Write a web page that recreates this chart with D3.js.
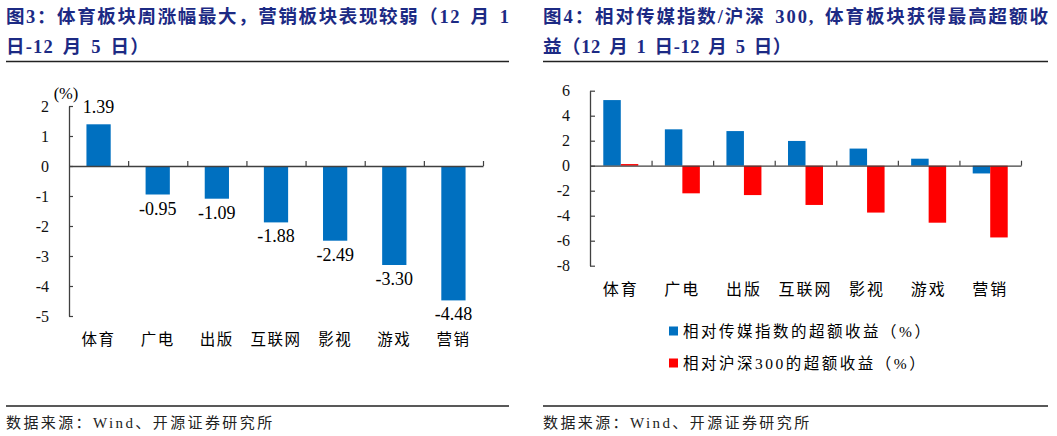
<!DOCTYPE html>
<html>
<head>
<meta charset="utf-8">
<script src="https://cdn.jsdelivr.net/npm/d3@7"></script>
<style>
  body { margin: 0; background: #fff; }
  svg { display: block; }
  text { font-family: "Liberation Serif", "Noto Sans CJK SC", serif; white-space: pre; }
</style>
</head>
<body>
<svg id="chart" width="1057" height="436"></svg>
<script>
// sectors, shared by both panels
var categories = ['体育', '广电', '出版', '互联网', '影视', '游戏', '营销'];
// fig 3: weekly change (%)
var weeklyChange = [1.39, -0.95, -1.09, -1.88, -2.49, -3.30, -4.48];
var leftTicks = [2, 1, 0, -1, -2, -3, -4, -5];
// fig 4: excess returns (%)
var excessVsMedia = [5.25, 2.91, 2.77, 1.98, 1.37, 0.56, -0.62];
var excessVsHs300 = [0.13, -2.21, -2.35, -3.14, -3.75, -4.56, -5.74];
var rightTicks = [6, 4, 2, 0, -2, -4, -6, -8];
var seriesNames = ['相对传媒指数的超额收益（%）', '相对沪深300的超额收益（%）'];
var seriesColors = ['#0070C0', '#FF0000'];

var svg = d3.select('#chart');
var titleColor = '#1C2A84';
var axisColor = '#404040';
var fmtHyphen = function(d) { return String(d); };

// titles + rules
function header(x, w, lines, ls2) {
  lines.forEach(function(t, i) {
    var el = svg.append('text')
      .attr('x', x).attr('y', 23 + i * 30)
      .attr('fill', titleColor)
      .attr('font-weight', 'bold')
      .attr('font-size', 18.5)
      .attr('word-spacing', 3)
      .text(t);
    if (i === 0) el.attr('textLength', w).attr('lengthAdjust', 'spacing');
    else el.attr('letter-spacing', ls2);
  });
  svg.append('line').attr('x1', x).attr('x2', x + w)
    .attr('y1', 61.5).attr('y2', 61.5)
    .attr('stroke', '#222').attr('stroke-width', 1.3);
  svg.append('line').attr('x1', x).attr('x2', x + w)
    .attr('y1', 406).attr('y2', 406)
    .attr('stroke', '#222').attr('stroke-width', 1.3);
  svg.append('text')
    .attr('x', x).attr('y', 428)
    .attr('font-size', 15)
    .attr('fill', '#222')
    .attr('letter-spacing', 2.4)
    .text('数据来源：Wind、开源证券研究所');
}
header(6, 503, ['图3：体育板块周涨幅最大，营销板块表现较弱（12 月 1', '日-12 月 5 日）'], 1.2);
header(543, 505, ['图4：相对传媒指数/沪深 300, 体育板块获得最高超额收', '益（12 月 1 日-12 月 5 日）'], 0.6);

// ---- left panel ----
(function() {
  var x0 = 69, x1 = 483;
  var y = d3.scaleLinear().domain([-5, 2]).range([316, 106]);
  var x = d3.scaleBand().domain(categories).range([x0, x1]);
  var bw = x.step() * 0.41;
  var g = svg.append('g');

  g.selectAll('rect.bar').data(weeklyChange).enter().append('rect')
    .attr('class', 'bar')
    .attr('x', function(d, i) { return x(categories[i]) + (x.bandwidth() - bw) / 2; })
    .attr('y', function(d) { return y(Math.max(0, d)); })
    .attr('width', bw)
    .attr('height', function(d) { return Math.abs(y(d) - y(0)); })
    .attr('fill', seriesColors[0]);

  var ya = g.append('g').attr('transform', 'translate(' + x0 + ',0)')
    .call(d3.axisLeft(y).tickValues(leftTicks).tickFormat(fmtHyphen)
      .tickSizeInner(-4).tickSizeOuter(0).tickPadding(20));
  styleAxis(ya, 16);

  var xl = d3.scaleLinear().domain([0, categories.length]).range([x0, x1]);
  var xa = g.append('g').attr('transform', 'translate(0,' + y(0) + ')')
    .call(d3.axisBottom(xl).tickValues(d3.range(1, categories.length + 1))
      .tickSizeInner(-5).tickSizeOuter(0).tickFormat(''));
  styleAxis(xa, 16);

  g.selectAll('text.val').data(weeklyChange).enter().append('text')
    .attr('class', 'val')
    .attr('x', function(d, i) { return x(categories[i]) + x.bandwidth() / 2; })
    .attr('y', function(d) { return d >= 0 ? y(d) - 11 : y(d) + 20; })
    .attr('text-anchor', 'middle')
    .attr('font-size', 18)
    .text(function(d) { return d.toFixed(2); });

  g.selectAll('text.cat').data(categories).enter().append('text')
    .attr('class', 'cat')
    .attr('x', function(d) { return x(d) + x.bandwidth() / 2; })
    .attr('y', 345)
    .attr('text-anchor', 'middle')
    .attr('font-size', 15.5)
    .attr('letter-spacing', 1.5)
    .text(function(d) { return d; });

  g.append('text').attr('x', 66).attr('y', 99)
    .attr('text-anchor', 'middle').attr('font-size', 16.5)
    .text('(%)');
})();

// ---- right panel ----
(function() {
  var x0 = 590, x1 = 1021;
  var y = d3.scaleLinear().domain([-8, 6]).range([265.7, 90.7]);
  var x = d3.scaleBand().domain(categories).range([x0, x1]);
  var sub = d3.scaleBand().domain([0, 1]).range([0, 35]);
  var off = (x.bandwidth() - 35) / 2;
  var g = svg.append('g');
  var series = [excessVsMedia, excessVsHs300];

  series.forEach(function(vals, s) {
    g.selectAll('rect.s' + s).data(vals).enter().append('rect')
      .attr('class', 's' + s)
      .attr('x', function(d, i) { return x(categories[i]) + off + sub(s); })
      .attr('y', function(d) { return y(Math.max(0, d)); })
      .attr('width', sub.bandwidth())
      .attr('height', function(d) { return Math.abs(y(d) - y(0)); })
      .attr('fill', seriesColors[s]);
  });

  var ya = g.append('g').attr('transform', 'translate(' + x0 + ',0)')
    .call(d3.axisLeft(y).tickValues(rightTicks).tickFormat(fmtHyphen)
      .tickSizeInner(-5).tickSizeOuter(0).tickPadding(20));
  styleAxis(ya, 16);

  var xl = d3.scaleLinear().domain([0, categories.length]).range([x0, x1]);
  var xa = g.append('g').attr('transform', 'translate(0,' + y(0) + ')')
    .call(d3.axisBottom(xl).tickValues(d3.range(1, categories.length + 1))
      .tickSizeInner(-5).tickSizeOuter(0).tickFormat(''));
  styleAxis(xa, 16);

  g.selectAll('text.cat').data(categories).enter().append('text')
    .attr('class', 'cat')
    .attr('x', function(d) { return x(d) + x.bandwidth() / 2; })
    .attr('y', 295)
    .attr('text-anchor', 'middle')
    .attr('font-size', 16)
    .attr('letter-spacing', 2)
    .text(function(d) { return d; });

  // legend
  seriesNames.forEach(function(name, i) {
    var ly = 331 + i * 32;
    g.append('rect').attr('x', 669).attr('y', ly - 4.5)
      .attr('width', 9).attr('height', 9).attr('fill', seriesColors[i]);
    g.append('text').attr('x', 683).attr('y', ly + 5.5)
      .attr('font-size', 15.5).attr('letter-spacing', 2.5)
      .text(name);
  });
})();

function styleAxis(a, fs) {
  a.select('.domain').attr('stroke', axisColor).attr('stroke-width', 1.3);
  a.selectAll('.tick line').attr('stroke', axisColor).attr('stroke-width', 1.2);
  a.selectAll('.tick text')
    .attr('fill', '#111')
    .attr('font-size', fs)
    .attr('font-family', '"Liberation Serif", serif');
}
</script>
</body>
</html>
